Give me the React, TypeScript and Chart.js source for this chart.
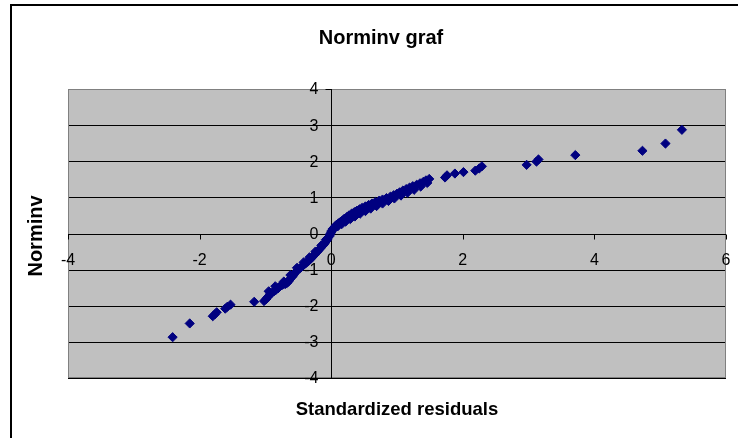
import React, { useEffect, useRef } from "react";
import { Chart, registerables } from "chart.js";

Chart.register(...registerables);

// Standardized residuals (x) and Norminv (y)
const residuals = [
  -2.41, -2.15, -1.8, -1.77, -1.74, -1.61, -1.58, -1.53, -1.17, -1.02,
  -0.99, -0.97, -0.95, -0.93, -0.9, -0.87, -0.84, -0.81, -0.79, -0.77,
  -0.74, -0.7, -0.67, -0.65, -0.64, -0.62, -0.6, -0.58, -0.57, -0.55,
  -0.53, -0.51, -0.48, -0.46, -0.44, -0.42, -0.4, -0.38, -0.36, -0.34,
  -0.32, -0.3, -0.28, -0.26, -0.24, -0.22, -0.2, -0.18, -0.16, -0.14,
  -0.12, -0.1, -0.09, -0.07, -0.06, -0.05, -0.03, -0.02, -0.01, 0.0,
  0.01, 0.02, 0.04, 0.06, 0.08, 0.11, 0.14, 0.17, 0.2, 0.24,
  0.27, 0.31, 0.35, 0.39, 0.43, 0.47, 0.52, 0.57, 0.62, 0.67,
  0.73, 0.78, 0.84, 0.9, 0.95, 1.0, 1.04, 1.09, 1.14, 1.19,
  1.24, 1.3, 1.35, 1.4, 1.44, 1.49, 1.73, 1.76, 1.88, 2.01,
  2.19, 2.25, 2.29, 2.97, 3.12, 3.15, 3.71, 4.73, 5.08, 5.33,
  -0.95, -0.85, -0.72, -0.62, -0.52, -0.42, -0.33, -0.24, -0.15, -0.08,
  0.05, 0.1, 0.16, 0.22, 0.29, 0.36, 0.44, 0.52, 0.6, 0.69,
  0.78, 0.87, 0.96, 1.06, 1.16, 1.26, 1.36, 1.46,
];
const norminv = [
  -2.87, -2.49, -2.29, -2.24, -2.18, -2.08, -2.03, -1.97, -1.89, -1.87,
  -1.82, -1.77, -1.73, -1.68, -1.64, -1.6, -1.56, -1.52, -1.48, -1.45,
  -1.42, -1.4, -1.37, -1.33, -1.29, -1.25, -1.21, -1.17, -1.13, -1.09,
  -1.05, -1.01, -0.97, -0.94, -0.91, -0.87, -0.84, -0.81, -0.78, -0.75,
  -0.72, -0.68, -0.64, -0.6, -0.56, -0.52, -0.48, -0.44, -0.4, -0.36,
  -0.32, -0.28, -0.24, -0.2, -0.16, -0.12, -0.08, -0.04, 0.0, 0.04,
  0.08, 0.12, 0.16, 0.2, 0.24, 0.28, 0.32, 0.36, 0.41, 0.46,
  0.5, 0.55, 0.59, 0.63, 0.67, 0.71, 0.75, 0.79, 0.83, 0.87,
  0.91, 0.94, 0.98, 1.02, 1.06, 1.1, 1.14, 1.19, 1.23, 1.27,
  1.31, 1.35, 1.39, 1.43, 1.47, 1.51, 1.55, 1.61, 1.66, 1.7,
  1.74, 1.8, 1.86, 1.9, 1.99, 2.05, 2.17, 2.29, 2.49, 2.87,
  -1.6, -1.46, -1.33, -1.15, -0.95, -0.8, -0.66, -0.5, -0.33, -0.17,
  0.14, 0.2, 0.26, 0.33, 0.4, 0.47, 0.55, 0.62, 0.69, 0.76,
  0.83, 0.9, 0.97, 1.05, 1.13, 1.21, 1.3, 1.4,
];

const xTicks = [-4, -2, 0, 2, 4, 6];
const yTicks = [-4, -3, -2, -1, 0, 1, 2, 3, 4];

const chartTitle = "Norminv graf";
const xTitle = "Standardized residuals";
const yTitle = "Norminv";

const FONT = '"Liberation Sans", Arial, Helvetica, sans-serif';

const excelFrame = {
  id: "excelFrame",
  beforeDatasetsDraw(chart: any) {
    const ctx = chart.ctx as CanvasRenderingContext2D;
    const { left, top, right, bottom } = chart.chartArea;
    const xs = chart.scales.x;
    const ys = chart.scales.y;
    const line = (x1: number, y1: number, x2: number, y2: number) => {
      ctx.beginPath();
      ctx.moveTo(x1, y1);
      ctx.lineTo(x2, y2);
      ctx.stroke();
    };
    ctx.save();
    // outer frame
    ctx.fillStyle = "#000";
    ctx.fillRect(10, 4, 2, chart.height);
    ctx.fillRect(10, 4, chart.width, 2);

    // plot area
    ctx.fillStyle = "#c0c0c0";
    ctx.fillRect(left, top, right - left, bottom - top);

    // horizontal gridlines
    ctx.lineWidth = 1;
    ctx.strokeStyle = "#000";
    yTicks.forEach((v) => {
      const py = Math.round(ys.getPixelForValue(v)) + 0.5;
      line(left, py, right, py);
    });

    // plot border
    ctx.strokeStyle = "#808080";
    ctx.strokeRect(left + 0.5, top + 0.5, right - left - 1, bottom - top - 1);

    // axes crossing at zero
    const x0 = Math.round(xs.getPixelForValue(0)) + 0.5;
    const y0 = Math.round(ys.getPixelForValue(0)) + 0.5;
    ctx.strokeStyle = "#000";
    line(x0, top, x0, bottom);
    line(left, y0, right, y0);

    // tick marks
    yTicks.forEach((v) => {
      const py = Math.round(ys.getPixelForValue(v)) + 0.5;
      line(x0 - 6, py, x0, py);
    });
    xTicks.forEach((v) => {
      const px = Math.round(xs.getPixelForValue(v)) + 0.5;
      line(px, y0, px, y0 + 5);
    });

    // tick labels
    ctx.fillStyle = "#000";
    ctx.font = `16px ${FONT}`;
    ctx.textAlign = "right";
    ctx.textBaseline = "middle";
    yTicks.forEach((v) => {
      ctx.fillText(String(v), x0 - 13, ys.getPixelForValue(v) + 1);
    });
    ctx.textAlign = "center";
    xTicks.forEach((v) => {
      ctx.fillText(String(v), xs.getPixelForValue(v), y0 + 26);
    });

    // titles
    ctx.font = `bold 20px ${FONT}`;
    ctx.fillText(chartTitle, 381, 38);
    ctx.font = `bold 18.5px ${FONT}`;
    ctx.fillText(xTitle, 397, 410);
    ctx.save();
    ctx.translate(36, 236);
    ctx.rotate(-Math.PI / 2);
    ctx.font = `bold 20px ${FONT}`;
    ctx.fillText(yTitle, 0, 0);
    ctx.restore();

    ctx.restore();
  },
};

export default function App() {
  const ref = useRef<HTMLCanvasElement | null>(null);
  useEffect(() => {
    if (!ref.current) return;
    const chart = new Chart(ref.current, {
      type: "scatter",
      data: {
        datasets: [
          {
            label: yTitle,
            data: residuals.map((x, i) => ({ x, y: norminv[i] })),
            pointStyle: "rectRot",
            pointRadius: 4.6,
            pointBorderWidth: 1,
            backgroundColor: "#000080",
            borderColor: "#000080",
          },
        ],
      },
      options: {
        responsive: false,
        devicePixelRatio: 1,
        animation: false,
        layout: { padding: { left: 68, top: 89, right: 12, bottom: 60 } },
        plugins: {
          legend: { display: false },
          title: { display: false },
          tooltip: { enabled: false },
        },
        scales: {
          x: { type: "linear", min: -4, max: 6, display: false },
          y: { type: "linear", min: -4, max: 4, display: false },
        },
      },
      plugins: [excelFrame],
    });
    return () => chart.destroy();
  }, []);
  return (
    <div
      style={{
        position: "fixed",
        left: 0,
        top: 0,
        width: 738,
        height: 438,
        background: "#fff",
      }}
    >
      <canvas ref={ref} width={738} height={438} style={{ width: 738, height: 438 }} />
    </div>
  );
}
